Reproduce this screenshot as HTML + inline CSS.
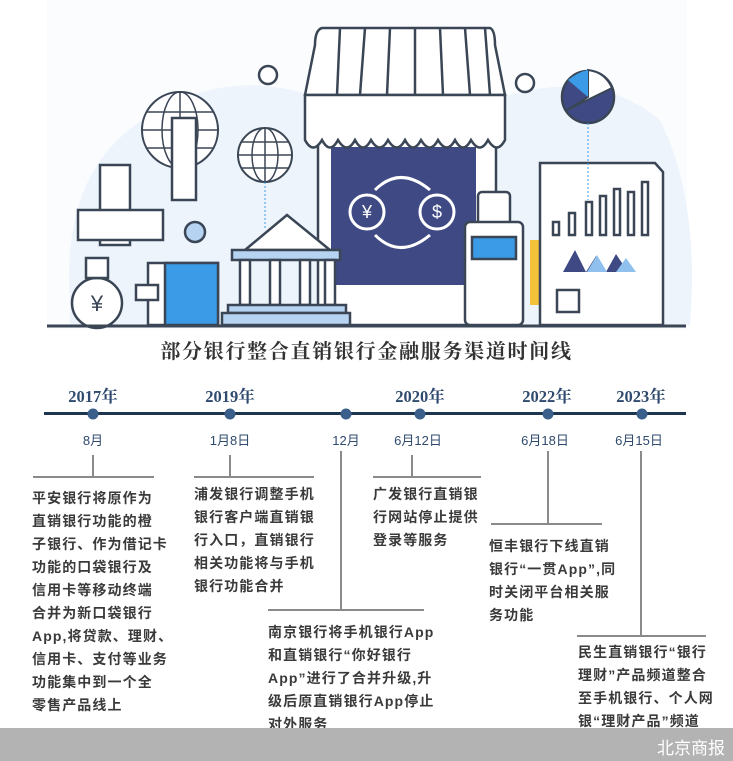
<!DOCTYPE html>
<html><head><meta charset="utf-8"><style>
body{margin:0;width:733px;height:761px;background:#fff;position:relative;overflow:hidden;font-family:"Liberation Sans","Noto Sans CJK SC",sans-serif}
.t{position:absolute;font-size:14px;letter-spacing:1.1px;line-height:23px;color:#3a3a3a;font-weight:bold;white-space:nowrap}
.y{position:absolute;font-family:"Liberation Serif","Noto Serif CJK SC",serif;font-weight:bold;font-size:16.5px;color:#2f4a6e;transform:translateX(-50%)}
.d{position:absolute;font-size:13px;color:#2f4a6e;transform:translateX(-50%)}
.v{position:absolute;width:2px;background:#8a8a8a}
.h{position:absolute;height:2px;background:#8a8a8a}
</style></head><body>
<svg width="733" height="340" style="position:absolute;left:0;top:0">
<rect x="47" y="0" width="640" height="330" fill="#fbfcfe"/>
<path d="M70 300 Q60 160 160 110 Q230 70 310 95 L510 95 Q600 70 660 120 Q700 200 690 325 L70 325Z" fill="#edf4fc"/>
<g stroke="#3a4655" stroke-width="2.5" fill="#fff">
<rect x="318" y="140" width="178" height="185"/>
<rect x="331" y="147" width="145" height="138" fill="#3f4a85" stroke="none"/>
<path d="M322 28 L490 28 Q495 30 495 45 L505 95 L305 95 L315 45 Q315 30 322 28Z"/>
<path d="M305 95 L505 95 L505 140 Q497 155 488 140 Q480 155 471 140 Q463 155 455 140 Q447 155 438 140 Q430 155 421 140 Q413 155 405 140 Q397 155 388 140 Q380 155 371 140 Q363 155 355 140 Q347 155 338 140 Q330 155 322 140 Q313 155 305 140Z"/>
<path d="M340 28 L337 95 M365 28 L360 95 M390 28 L387 95 M415 28 L415 95 M440 28 L443 95 M465 28 L470 95 M485 28 L490 95" fill="none"/>
</g>
<g stroke="#fff" stroke-width="3" fill="none">
<path d="M375 190 Q400 165 430 190"/><path d="M375 235 Q400 260 430 235"/>
<circle cx="367" cy="212" r="17"/><circle cx="437" cy="212" r="17"/>
</g>
<text x="367" y="218" fill="#fff" font-size="18" text-anchor="middle" font-family="Liberation Sans">¥</text>
<text x="437" y="218" fill="#fff" font-size="18" text-anchor="middle" font-family="Liberation Sans">$</text>
<g stroke="#3a4655" stroke-width="2.5" fill="#fff">
<rect x="478" y="192" width="32" height="45" rx="4"/>
<rect x="465" y="222" width="58" height="103" rx="5"/>
<rect x="472" y="237" width="44" height="22" fill="#3b9be6"/>
<rect x="530" y="240" width="25" height="65" fill="#f2c33a" stroke="none"/>
<path d="M540 163 L655 163 L663 172 L663 325 L540 325Z"/>
<rect x="553" y="222" width="6" height="13"/><rect x="569" y="213" width="6" height="22"/><rect x="586" y="202" width="6" height="33"/><rect x="600" y="196" width="6" height="39"/><rect x="614" y="189" width="6" height="46"/><rect x="628" y="192" width="6" height="43"/><rect x="642" y="182" width="6" height="53"/>
<rect x="557" y="290" width="22" height="22"/>
<circle cx="588" cy="97" r="26" fill="#3f4a85"/>
<path d="M245 250 L287 215 L330 250Z"/>
<rect x="232" y="250" width="108" height="10" fill="#b7d3f2"/>
<rect x="240" y="260" width="10" height="45"/><rect x="270" y="260" width="10" height="45"/><rect x="300" y="260" width="10" height="45"/><rect x="325" y="260" width="10" height="45"/>
<rect x="228" y="305" width="118" height="8" fill="#b7d3f2"/><rect x="222" y="313" width="128" height="12" fill="#b7d3f2"/>
<rect x="148" y="263" width="70" height="62"/><rect x="165" y="263" width="53" height="62" fill="#3b9be6"/>
<rect x="136" y="285" width="22" height="15"/>
<circle cx="97" cy="303" r="25"/><rect x="86" y="258" width="22" height="20"/>
<circle cx="180" cy="130" r="38" stroke-width="2"/><circle cx="265" cy="155" r="27" stroke-width="2"/>
</g>
<g stroke="#3a4655" stroke-width="1.5" fill="none">
<ellipse cx="180" cy="130" rx="18" ry="38"/><line x1="142" y1="130" x2="218" y2="130"/><line x1="146" y1="112" x2="214" y2="112"/><line x1="146" y1="148" x2="214" y2="148"/><line x1="180" y1="92" x2="180" y2="168"/>
<ellipse cx="265" cy="155" rx="13" ry="27"/><line x1="238" y1="155" x2="292" y2="155"/><line x1="241" y1="142" x2="289" y2="142"/><line x1="241" y1="168" x2="289" y2="168"/><line x1="265" y1="128" x2="265" y2="182"/>
</g>
<g stroke="#3a4655" stroke-width="2.5" fill="#fff">
<rect x="172" y="118" width="24" height="82"/>
<rect x="100" y="165" width="30" height="80"/><rect x="78" y="210" width="85" height="30"/>
<circle cx="195" cy="232" r="10" fill="#b7d3f2"/><circle cx="268" cy="75" r="9"/><circle cx="525" cy="83" r="9"/>
</g>
<path d="M567 110 L588 97 L588 70 Q605 72 612 88Z" fill="#fff" stroke="#3a4655" stroke-width="2"/>
<path d="M588 97 L588 70 Q578 72 568 80Z" fill="#3b9be6"/>
<path d="M563 272 L575 250 L586 272 L596 256 L606 272 L616 254 L628 272Z" fill="#3f4a85"/>
<path d="M587 272 L597 255 L607 272 M616 272 L626 258 L636 272" fill="#8fc0ee"/>
<text x="97" y="311" font-size="22" text-anchor="middle" fill="#3a4655">¥</text>
<line x1="47" y1="326" x2="686" y2="326" stroke="#3a4655" stroke-width="3"/>
<line x1="588" y1="123" x2="588" y2="200" stroke="#3b9be6" stroke-dasharray="2 2"/>
<line x1="265" y1="182" x2="265" y2="230" stroke="#3b9be6" stroke-dasharray="2 2"/>
</svg>
<div style="position:absolute;left:0;top:339px;width:733px;text-align:center;font-family:'Liberation Serif','Noto Serif CJK SC',serif;font-weight:bold;font-size:20px;letter-spacing:1.7px;color:#333;line-height:26px">部分银行整合直销银行金融服务渠道时间线</div>
<div style="position:absolute;left:44px;top:412px;width:642px;height:3px;background:#1e3550"></div>
<svg width="733" height="30" style="position:absolute;left:0;top:399px"><g fill="#3a5f8a"><circle cx="93" cy="15" r="5.5"/><circle cx="230" cy="15" r="5.5"/><circle cx="346" cy="15" r="5.5"/><circle cx="420" cy="15" r="5.5"/><circle cx="548" cy="15" r="5.5"/><circle cx="642" cy="15" r="5.5"/></g></svg>
<div class="y" style="left:93px;top:383px">2017年</div>
<div class="y" style="left:230px;top:383px">2019年</div>
<div class="y" style="left:420px;top:383px">2020年</div>
<div class="y" style="left:547px;top:383px">2022年</div>
<div class="y" style="left:641px;top:383px">2023年</div>
<div class="d" style="left:93px;top:430px">8月</div>
<div class="d" style="left:230px;top:430px">1月8日</div>
<div class="d" style="left:346px;top:430px">12月</div>
<div class="d" style="left:418px;top:430px">6月12日</div>
<div class="d" style="left:545px;top:430px">6月18日</div>
<div class="d" style="left:639px;top:430px">6月15日</div>
<div class="v" style="left:92px;top:455px;height:22px"></div><div class="h" style="left:33px;top:476px;width:121px"></div>
<div class="v" style="left:229px;top:455px;height:22px"></div><div class="h" style="left:194px;top:476px;width:120px"></div>
<div class="v" style="left:340px;top:451px;height:160px"></div><div class="h" style="left:268px;top:609px;width:156px"></div>
<div class="v" style="left:411px;top:455px;height:22px"></div><div class="h" style="left:373px;top:476px;width:108px"></div>
<div class="v" style="left:547px;top:451px;height:73px"></div><div class="h" style="left:491px;top:523px;width:111px"></div>
<div class="v" style="left:640px;top:451px;height:185px"></div><div class="h" style="left:577px;top:635px;width:129px"></div>
<div class="t" style="left:32px;top:487px">平安银行将原作为<br>直销银行功能的橙<br>子银行、作为借记卡<br>功能的口袋银行及<br>信用卡等移动终端<br>合并为新口袋银行<br>App,将贷款、理财、<br>信用卡、支付等业务<br>功能集中到一个全<br>零售产品线上</div>
<div class="t" style="left:194px;top:483px">浦发银行调整手机<br>银行客户端直销银<br>行入口，直销银行<br>相关功能将与手机<br>银行功能合并</div>
<div class="t" style="left:373px;top:483px">广发银行直销银<br>行网站停止提供<br>登录等服务</div>
<div class="t" style="left:268px;top:621px">南京银行将手机银行App<br>和直销银行“你好银行<br>App”进行了合并升级,升<br>级后原直销银行App停止<br>对外服务</div>
<div class="t" style="left:489px;top:535px">恒丰银行下线直销<br>银行“一贯App”,同<br>时关闭平台相关服<br>务功能</div>
<div class="t" style="left:578px;top:641px">民生直销银行“银行<br>理财”产品频道整合<br>至手机银行、个人网<br>银“理财产品”频道</div>
<div style="position:absolute;left:0;top:728px;width:733px;height:33px;background:#b3b3b3"></div>
<div style="position:absolute;right:8px;top:734px;color:#fff;font-size:17px">北京商报</div>
</body></html>
